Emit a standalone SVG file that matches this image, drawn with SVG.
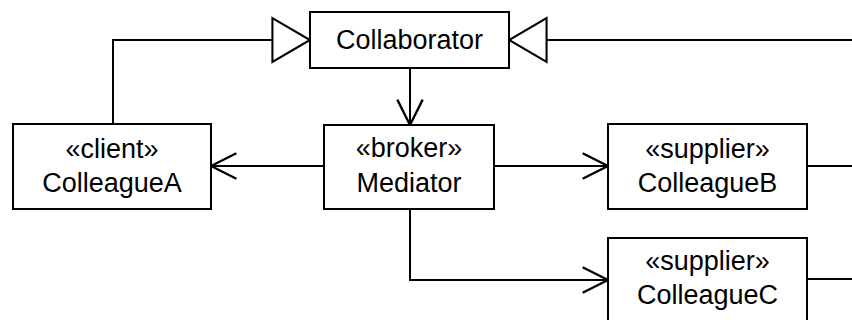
<svg xmlns="http://www.w3.org/2000/svg" width="852" height="320" viewBox="0 0 852 320">
<style>
.box{fill:#fff;stroke:#000;stroke-width:2}
.ln{fill:none;stroke:#000;stroke-width:2}
.t{font-family:"Liberation Sans",Arial,sans-serif;font-size:27px;fill:#000;text-anchor:middle}
</style>
<defs>
<marker id="open" markerUnits="userSpaceOnUse" markerWidth="30" markerHeight="30" viewBox="-24 -13 26 26" refX="0" refY="0" orient="auto">
<path d="M-22,-11 L0,0 L-22,11" fill="none" stroke="#000" stroke-width="2"/>
</marker>
<marker id="tri" markerUnits="userSpaceOnUse" markerWidth="44" markerHeight="48" viewBox="-38 -23 40 46" refX="0" refY="0" orient="auto">
<path d="M-36,-21 L0,0 L-36,21 Z" fill="#fff" stroke="#000" stroke-width="2"/>
</marker>
</defs>
<g id="connectors">
<path class="ln" d="M113,124 V40 H310" marker-end="url(#tri)"/>
<path class="ln" d="M852,40 H509" marker-end="url(#tri)"/>
<path class="ln" d="M410,68 V125" marker-end="url(#open)"/>
<path class="ln" d="M324,166 H211" marker-end="url(#open)"/>
<path class="ln" d="M494,166 H608" marker-end="url(#open)"/>
<path class="ln" d="M410,209 V280 H608" marker-end="url(#open)"/>
<path class="ln" d="M807,166 H852"/>
<path class="ln" d="M807,279 H852"/>
</g>
<g id="collaborator">
<rect class="box" x="310" y="12" width="199" height="56"/>
<text class="t" x="409.5" y="49">Collaborator</text>
</g>
<g id="colleagueA">
<rect class="box" x="13" y="124" width="198" height="85"/>
<text class="t" x="112" y="158">«client»</text>
<text class="t" x="112" y="192">ColleagueA</text>
</g>
<g id="mediator">
<rect class="box" x="324" y="125" width="170" height="84"/>
<text class="t" x="409" y="157">«broker»</text>
<text class="t" x="409" y="192">Mediator</text>
</g>
<g id="colleagueB">
<rect class="box" x="608" y="124" width="199" height="85"/>
<text class="t" x="707.5" y="158">«supplier»</text>
<text class="t" x="707.5" y="192">ColleagueB</text>
</g>
<g id="colleagueC">
<rect class="box" x="608" y="238" width="199" height="85"/>
<text class="t" x="707.5" y="270">«supplier»</text>
<text class="t" x="707.5" y="304">ColleagueC</text>
</g>
</svg>
